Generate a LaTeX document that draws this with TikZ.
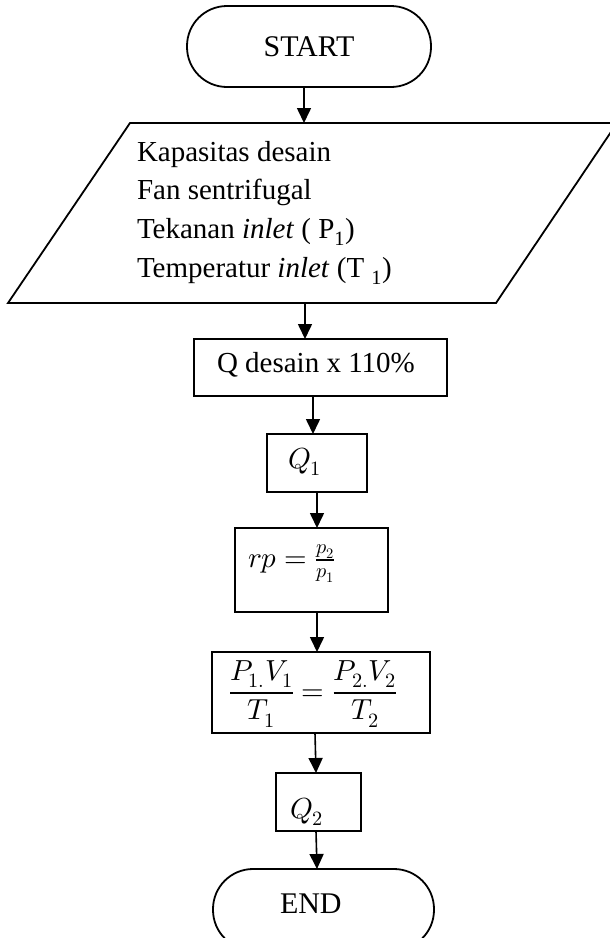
\documentclass[tikz,border=0pt]{standalone}
\usepackage{amsmath}
\usepackage{fontspec}
\usepackage{unicode-math}
\setmainfont{Liberation Serif}
\setmathfont{Latin Modern Math}
\usetikzlibrary{arrows.meta}
\begin{document}
\begin{tikzpicture}[x=1pt,y=-1pt,
  every node/.style={inner sep=0pt, outer sep=0pt},
  term/.style={draw, line width=1.8pt, rounded corners=40pt, minimum height=81pt},
  proc/.style={draw, line width=1.8pt},
  txt/.style={font=\fontsize{29}{38.7}\selectfont},
  mtxt/.style={font=\fontsize{29}{34}\selectfont},
  arr/.style={line width=1.6pt, -{Triangle[length=15pt,width=14pt]}}]
\useasboundingbox (0,0) rectangle (610,938);
% START
\node[term, minimum width=244pt, font=\fontsize{30}{35}\selectfont] (start) at (309,46.5) {START};
% input parallelogram
\coordinate (pTL) at (130,123);
\coordinate (pTR) at (617,123);
\coordinate (pBR) at (496,303);
\coordinate (pBL) at (8,303);
\draw[line width=1.8pt] (pTL) -- (pTR) -- (pBR) -- (pBL) -- cycle;
\coordinate (pT) at (304,123);
\coordinate (pB) at (305,303);
\node[txt, anchor=north west, align=left] (inp) at (137,141)
  {Kapasitas desain\\ Fan sentrifugal\\ Tekanan \textit{inlet} ( P\textsubscript{1})\\ Temperatur \textit{inlet} (T \textsubscript{1})};
% Q desain
\node[proc, minimum width=253pt, minimum height=57pt] (qd) at (320.5,367.5) {};
\node[txt, anchor=base west] (qdt) at (217,372) {Q desain x 110\%};
% Q1
\node[proc, minimum width=100pt, minimum height=58pt] (q1) at (317,463) {};
\node[mtxt, anchor=base west] (q1t) at (288,468) {$Q_1$};
% rp
\node[proc, minimum width=153pt, minimum height=84pt] (rp) at (311.5,570) {};
\node[mtxt, anchor=base west] (rpt) at (248,567) {$rp=\genfrac{}{}{1.8pt}{1}{p_2}{p_1}$};
% gas law
\node[proc, minimum width=218pt, minimum height=81pt] (eq) at (321,692.5) {};
\node[mtxt, anchor=base west] (eqt) at (229,700) {$\genfrac{}{}{2.2pt}{0}{P_{1.}V_1}{T_1}=\genfrac{}{}{2.2pt}{0}{P_{2.}V_2}{T_2}$};
% Q2
\node[proc, minimum width=85pt, minimum height=58pt] (q2) at (318.5,802) {};
\node[mtxt, anchor=base west] (q2t) at (290,818) {$Q_2$};
% END
\node[term, minimum width=221pt] (end) at (323.5,909.5) {};
\node[font=\fontsize{30}{35}\selectfont, anchor=base west] (endt) at (280,913) {END};
% connectors
\draw[arr] (start.south -| pT) -- (pT);
\draw[arr] (pB) -- (pB |- qd.north);
\draw[arr] ([xshift=-7.5pt]qd.south) -- ([xshift=-4pt]q1.north);
\draw[arr] (q1.south) -- ([xshift=5.5pt]rp.north);
\draw[arr] ([xshift=5.5pt]rp.south) -- ([xshift=-4pt]eq.north);
\draw[arr] ([xshift=-6pt]eq.south) -- ([xshift=-2.5pt]q2.north);
\draw[arr] ([xshift=-2.5pt]q2.south) -- ([xshift=-6.5pt]end.north);
\end{tikzpicture}
\end{document}
